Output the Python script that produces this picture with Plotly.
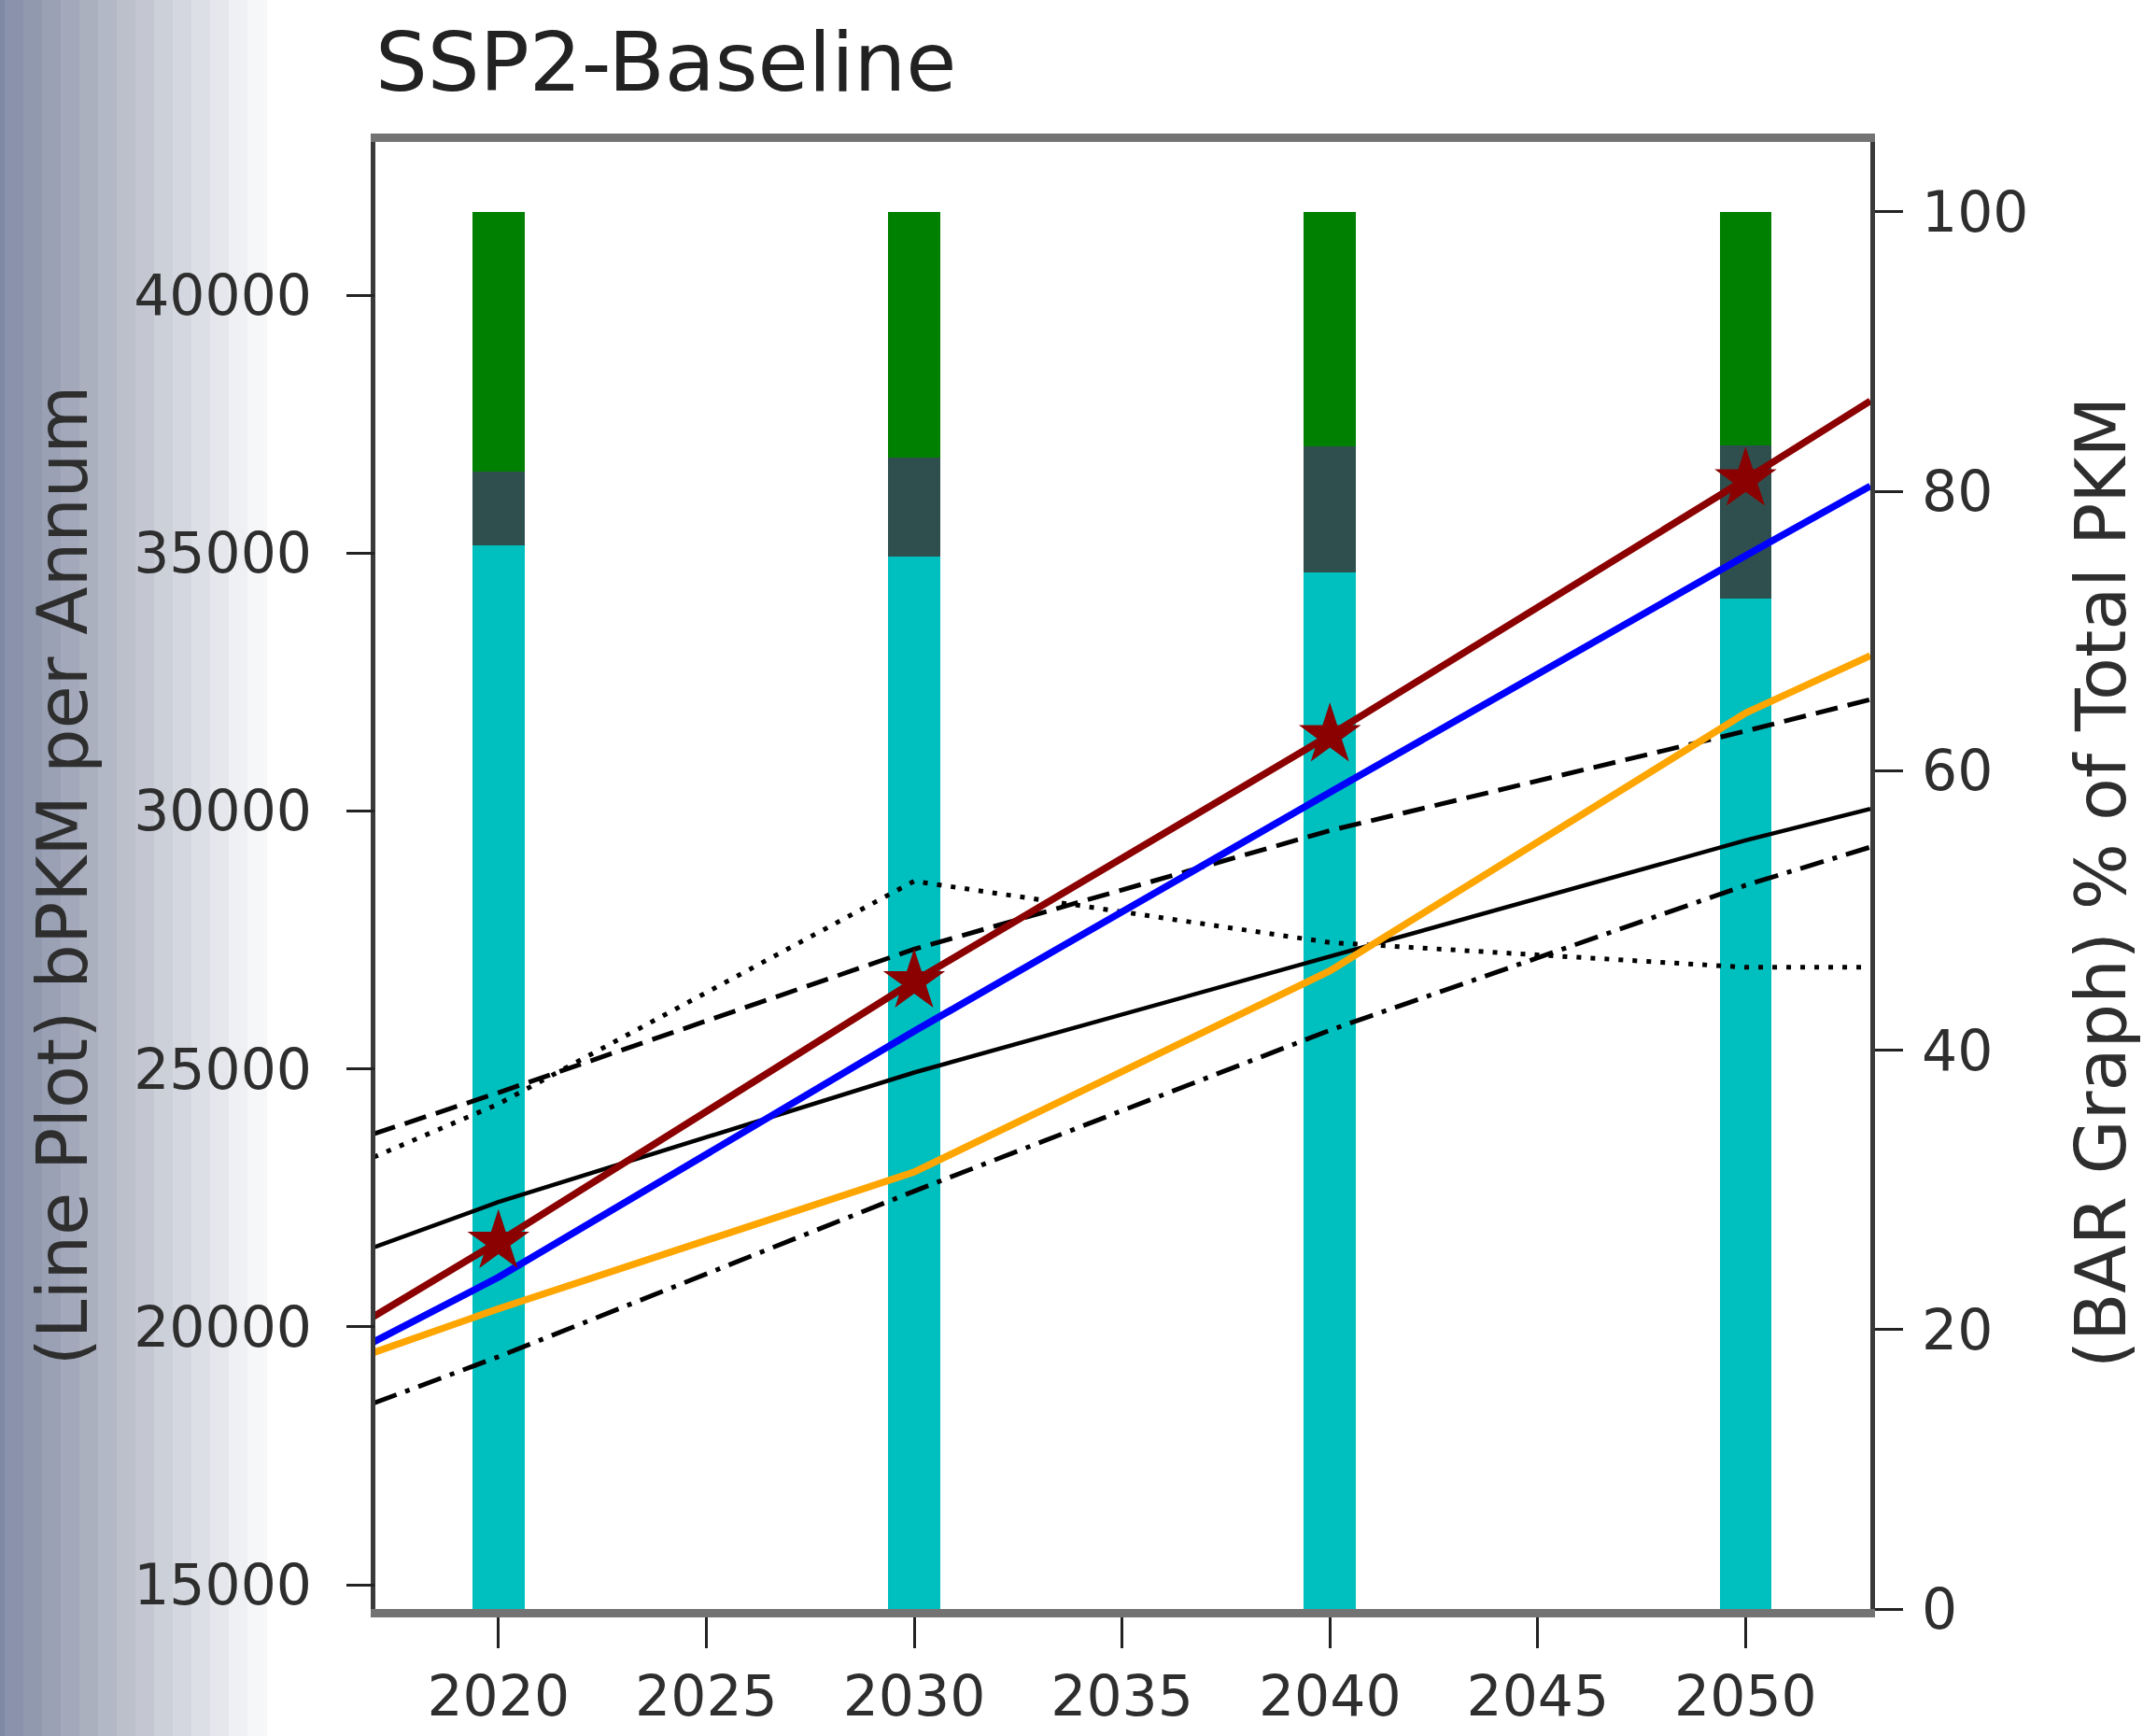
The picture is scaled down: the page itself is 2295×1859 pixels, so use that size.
import plotly.graph_objects as go

# ---- data -------------------------------------------------------------
years = [2020, 2030, 2040, 2050]
line_x = [2017, 2020, 2030, 2040, 2050, 2053]

# (Line Plot) bPKM per Annum
red_line = [20200, 21650, 26700, 31470, 36430, 37950]
blue_line = [19710, 20960, 25730, 30360, 34950, 36300]
orange_line = [19500, 20350, 23000, 26900, 31900, 33010]
black_solid = [21540, 22420, 24930, 27180, 29430, 30040]
black_dashed = [23740, 24540, 27320, 29620, 31550, 32160]
black_dotted = [23290, 24320, 28640, 27450, 26970, 26970]
black_dashdot = [18520, 19420, 22630, 25750, 28560, 29300]

# (BAR Graph) % of Total PKM, stacked
bar_cyan = [76.1, 75.3, 74.2, 72.3]
bar_slate = [5.3, 7.1, 9.0, 11.0]
bar_green = [18.6, 17.6, 16.8, 16.7]

x_ticks = [2020, 2025, 2030, 2035, 2040, 2045, 2050]
left_ticks = [15000, 20000, 25000, 30000, 35000, 40000]
right_ticks = [0, 20, 40, 60, 80, 100]

# ---- layout geometry --------------------------------------------------
W, H = 2295, 1859
ML, MR, MT, MB = 402, 292, 152, 136
PW = W - ML - MR
PH = H - MT - MB

FONT = "DejaVu Sans"
TXT = "#2e2e2e"

fig = go.Figure()

# stacked bars on the right-hand percentage axis
bar_w = 1.25
fig.add_trace(go.Bar(x=years, y=bar_cyan, width=bar_w, marker_color="#00bfbf",
                     marker_line_width=0, yaxis="y", showlegend=False))
fig.add_trace(go.Bar(x=years, y=bar_slate, width=bar_w, marker_color="#2f4f4f",
                     marker_line_width=0, yaxis="y", showlegend=False))
fig.add_trace(go.Bar(x=years, y=bar_green, width=bar_w, marker_color="#008000",
                     marker_line_width=0, yaxis="y", showlegend=False))

# line plots on the left-hand bPKM axis
def add_line(vals, color, width, dash="solid"):
    fig.add_trace(go.Scatter(x=line_x, y=vals, mode="lines", yaxis="y2",
                             line=dict(color=color, width=width, dash=dash),
                             showlegend=False))

add_line(black_dotted, "#000000", 5, "5px,10px")
add_line(black_dashed, "#000000", 5, "24px,11px")
add_line(black_dashdot, "#000000", 5, "26px,10px,5px,10px")
add_line(black_solid, "#000000", 4.5)
add_line(orange_line, "#ffa500", 7.5)
add_line(blue_line, "#0000ff", 7.5)
add_line(red_line, "#8b0000", 7.5)

fig.add_trace(go.Scatter(x=years, y=red_line[1:5], mode="markers", yaxis="y2",
                         marker=dict(symbol="star", size=50, color="#8b0000",
                                     line=dict(width=0)),
                         showlegend=False))

# banded grey-blue gradient along the left edge of the canvas
band_cols = ["#7f89a3", "#8a93ab", "#9199ae", "#9aa1b4", "#a3a9ba", "#abb0bf",
             "#b3b8c6", "#bbc0cb", "#c4c7d2", "#ccd0d9", "#d4d7df", "#dcdfe6",
             "#e5e7ec", "#eef0f3", "#f6f7f9"]
band_edges = [0, 5, 25, 45, 65, 85, 105, 125, 145, 165, 185, 205, 225, 245, 265, 286]
shapes = []
for i, c in enumerate(band_cols):
    shapes.append(dict(type="rect", xref="paper", yref="paper",
                       x0=(band_edges[i] - ML) / PW, x1=(band_edges[i + 1] - ML) / PW,
                       y0=-MB / PH - 0.01, y1=1 + MT / PH + 0.01,
                       fillcolor=c, line=dict(width=0), layer="below"))

tickfont = dict(family=FONT, size=60, color=TXT)

fig.update_layout(
    width=W, height=H,
    margin=dict(l=ML, r=MR, t=MT, b=MB, autoexpand=False),
    paper_bgcolor="white", plot_bgcolor="white",
    barmode="stack", bargap=0,
    shapes=shapes,
    title=dict(text="SSP2-Baseline", x=0, xref="paper", xanchor="left",
               y=1 - 66 / H, yref="container", yanchor="middle",
               font=dict(family=FONT, size=88, color="#222222")),
    xaxis=dict(range=[2017.04, 2053.0], tickvals=x_ticks,
               ticks="outside", ticklen=33, tickwidth=3, tickcolor="#222222",
               showline=True, linewidth=9, linecolor="#737373", mirror=True,
               showgrid=False, zeroline=False, tickfont=tickfont,
               automargin=False),
    yaxis=dict(side="right", range=[0, 105.0], tickvals=right_ticks,
               ticks="outside", ticklen=30, tickwidth=3, tickcolor="#222222",
               showline=True, linewidth=5, linecolor="#3a3a3a", mirror=True,
               showgrid=False, zeroline=False, tickfont=tickfont,
               ticklabelstandoff=8, automargin=False),
    yaxis2=dict(side="left", overlaying="y", range=[14530, 42970],
                tickvals=left_ticks, ticktext=[str(v) for v in left_ticks],
                ticks="outside", ticklen=30, tickwidth=3,
                tickcolor="#222222", showline=False, showgrid=False,
                zeroline=False, tickfont=tickfont, ticklabelstandoff=25,
                automargin=False),
    annotations=[
        dict(text="(Line Plot) bPKM per Annum", xref="paper", yref="paper",
             x=(66 - ML) / PW, y=0.5, textangle=-90, showarrow=False,
             xanchor="center", yanchor="middle",
             font=dict(family=FONT, size=75, color=TXT)),
        dict(text="(BAR Graph) % of Total PKM", xref="paper", yref="paper",
             x=(2250 - ML) / PW, y=0.495, textangle=-90, showarrow=False,
             xanchor="center", yanchor="middle",
             font=dict(family=FONT, size=75, color=TXT)),
    ],
)

fig.write_html("out.html")
